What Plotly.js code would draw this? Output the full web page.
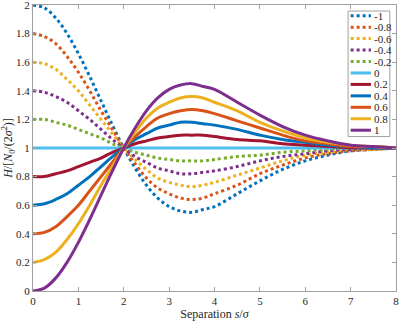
<!DOCTYPE html>
<html>
<head>
<meta charset="utf-8">
<script src="https://cdn.plot.ly/plotly-3.0.1.min.js"></script>
<style>
  html, body { margin: 0; padding: 0; background: #fff; }
  #plot { width: 399px; height: 321px; }
  #plot svg text { font-family: 'Liberation Serif', 'DejaVu Serif', serif !important; }
</style>
</head>
<body>
<div id="plot"></div>
<script>
// separation s/sigma (finer steps where the curves bend most)
var sep = [0, 0.25, 0.5, 0.75, 1, 1.25, 1.5, 1.75, 2, 2.25, 2.5, 2.75, 3, 3.25, 3.5, 3.75, 4,
           4.5, 5, 5.5, 6, 6.5, 7, 7.5, 8];

// curves, one per legend entry
var labels = ['-1', '-0.8', '-0.6', '-0.4', '-0.2', '0', '0.2', '0.4', '0.6', '0.8', '1'];
var h_m10 = [2.00, 1.98, 1.91, 1.80, 1.66, 1.50, 1.33, 1.16, 1.00, 0.86, 0.74, 0.65, 0.59, 0.56, 0.55, 0.57, 0.59, 0.68, 0.77, 0.85, 0.91, 0.95, 0.98, 0.99, 1.00];
var h_m08 = [1.80, 1.78, 1.73, 1.64, 1.53, 1.40, 1.26, 1.13, 1.00, 0.89, 0.79, 0.72, 0.68, 0.65, 0.64, 0.65, 0.68, 0.74, 0.82, 0.88, 0.93, 0.96, 0.98, 0.99, 1.00];
var h_m06 = [1.60, 1.59, 1.55, 1.48, 1.40, 1.30, 1.20, 1.10, 1.00, 0.92, 0.85, 0.79, 0.76, 0.74, 0.73, 0.74, 0.76, 0.81, 0.86, 0.91, 0.95, 0.97, 0.99, 0.99, 1.00];
var h_m04 = [1.40, 1.39, 1.36, 1.32, 1.26, 1.20, 1.13, 1.06, 1.00, 0.94, 0.90, 0.86, 0.84, 0.82, 0.82, 0.83, 0.84, 0.87, 0.91, 0.94, 0.96, 0.98, 0.99, 1.00, 1.00];
var h_m02 = [1.20, 1.20, 1.18, 1.16, 1.13, 1.10, 1.07, 1.03, 1.00, 0.97, 0.95, 0.93, 0.92, 0.91, 0.91, 0.91, 0.92, 0.94, 0.95, 0.97, 0.98, 0.99, 1.00, 1.00, 1.00];
var h_00  = [1, 1, 1, 1, 1, 1, 1, 1, 1, 1, 1, 1, 1, 1, 1, 1, 1, 1, 1, 1, 1, 1, 1, 1, 1];
var h_p02 = [0.80, 0.80, 0.82, 0.84, 0.87, 0.90, 0.93, 0.97, 1.00, 1.03, 1.05, 1.07, 1.08, 1.09, 1.09, 1.09, 1.08, 1.06, 1.05, 1.03, 1.02, 1.01, 1.00, 1.00, 1.00];
var h_p04 = [0.60, 0.61, 0.64, 0.68, 0.74, 0.80, 0.87, 0.94, 1.00, 1.06, 1.10, 1.14, 1.16, 1.18, 1.18, 1.17, 1.16, 1.13, 1.09, 1.06, 1.04, 1.02, 1.01, 1.00, 1.00];
var h_p06 = [0.40, 0.41, 0.45, 0.52, 0.60, 0.70, 0.80, 0.90, 1.00, 1.08, 1.15, 1.21, 1.24, 1.26, 1.27, 1.26, 1.24, 1.19, 1.14, 1.09, 1.05, 1.03, 1.01, 1.01, 1.00];
var h_p08 = [0.20, 0.22, 0.27, 0.36, 0.47, 0.60, 0.74, 0.87, 1.00, 1.11, 1.21, 1.28, 1.32, 1.35, 1.36, 1.35, 1.32, 1.26, 1.18, 1.12, 1.07, 1.04, 1.02, 1.01, 1.00];
var h_p10 = [0.00, 0.02, 0.09, 0.20, 0.34, 0.50, 0.67, 0.84, 1.00, 1.14, 1.26, 1.35, 1.41, 1.44, 1.45, 1.43, 1.41, 1.32, 1.23, 1.15, 1.09, 1.05, 1.02, 1.01, 1.00];

var series = [h_m10, h_m08, h_m06, h_m04, h_m02, h_00, h_p02, h_p04, h_p06, h_p08, h_p10];
var colors = ['#0072BD', '#D95319', '#EDB120', '#7E2F8E', '#77AC30', '#4DBEEE',
              '#A2142F', '#0072BD', '#D95319', '#EDB120', '#7E2F8E'];

var serif = 'Liberation Serif';
var gray = '#a0a0a0';

var traces = [];
for (var i = 0; i < series.length; i++) {
  traces.push({
    x: sep,
    y: series[i],
    name: labels[i],
    type: 'scatter',
    mode: 'lines',
    showlegend: false,
    line: {
      color: colors[i],
      width: 3,
      shape: 'spline',
      smoothing: 1,
      dash: i < 5 ? 'dot' : 'solid'
    }
  });
}

// hand-made legend box (plotly's own legend rows are too tall)
var shapes = [{
  type: 'rect', xref: 'paper', yref: 'paper',
  x0: 0.868, x1: 0.983, y0: 0.54, y1: 0.979,
  fillcolor: '#fff', line: { color: gray, width: 1 }, layer: 'above'
}];
var annotations = [];
for (var i = 0; i < labels.length; i++) {
  var ly = (291 - 15.7 - 11.45 * i) / 286;
  shapes.push({
    type: 'line', xref: 'paper', yref: 'paper',
    x0: 0.875, x1: 0.931, y0: ly, y1: ly, layer: 'above',
    line: { color: colors[i], width: 3, dash: i < 5 ? 'dot' : 'solid' }
  });
  annotations.push({
    xref: 'paper', yref: 'paper', x: 0.935, y: ly,
    xanchor: 'left', yanchor: 'middle', showarrow: false,
    text: labels[i],
    font: { family: serif, size: 11, color: '#262626' }
  });
}

var axis_common = {
  showgrid: false,
  zeroline: false,
  showline: true,
  linecolor: gray,
  linewidth: 1,
  mirror: 'ticks',
  ticks: 'inside',
  ticklen: 4,
  tickcolor: gray,
  ticklabeloverflow: 'allow',
  tickfont: { family: serif, size: 11, color: '#262626' }
};

var layout = {
  width: 399,
  height: 321,
  margin: { l: 33, r: 3, t: 5, b: 30 },
  paper_bgcolor: '#fff',
  plot_bgcolor: '#fff',
  font: { family: serif, size: 11, color: '#262626' },
  xaxis: Object.assign({}, axis_common, {
    range: [0, 8],
    dtick: 1,
    title: { text: 'Separation <i>s</i>/<i>σ</i>', standoff: 2, font: { family: serif, size: 12 } }
  }),
  yaxis: Object.assign({}, axis_common, {
    range: [0, 2],
    dtick: 0.2,
    title: { text: '<i>H</i>/[<i>N</i><sub>0</sub>/(2<i>σ</i><sup>2</sup>)]', standoff: 4, font: { family: serif, size: 12 } }
  }),
  showlegend: false,
  shapes: shapes,
  annotations: annotations
};

Plotly.newPlot('plot', traces, layout, { displayModeBar: false, staticPlot: true });
</script>
</body>
</html>
